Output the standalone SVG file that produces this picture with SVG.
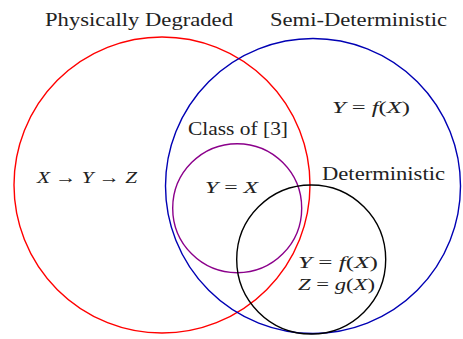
<svg xmlns="http://www.w3.org/2000/svg" width="463" height="339" viewBox="0 0 463 339">
<style>
.c{fill:none;stroke-width:1.4}
.i{font-style:italic}
</style>
<rect width="463" height="339" fill="#fff"/>
<g id="connectors"/>
<g font-family="Liberation Serif, DejaVu Serif, Noto Serif, serif" fill="#222">
<g id="physically-degraded">
<circle class="c" cx="162" cy="185" r="148" stroke="#ff0000"/>
<text font-size="19" x="45" y="25.5" textLength="188" lengthAdjust="spacingAndGlyphs">Physically Degraded</text>
<text font-size="17" x="37" y="183" textLength="100" lengthAdjust="spacingAndGlyphs"><tspan class="i">X</tspan> → <tspan class="i">Y</tspan> → <tspan class="i">Z</tspan></text>
</g>
<g id="semi-deterministic">
<circle class="c" cx="313" cy="186" r="147.5" stroke="#0000b4"/>
<text font-size="19" x="270" y="25.5" textLength="177" lengthAdjust="spacingAndGlyphs">Semi-Deterministic</text>
<text font-size="17" x="332" y="113" textLength="78" lengthAdjust="spacingAndGlyphs"><tspan class="i">Y</tspan> = <tspan class="i">f</tspan>(<tspan class="i">X</tspan>)</text>
</g>
<g id="class-of-3">
<circle class="c" cx="237.2" cy="208.2" r="64.5" stroke="#8b008b"/>
<text font-size="19" x="188" y="135" textLength="100" lengthAdjust="spacingAndGlyphs">Class of [3]</text>
<text font-size="17" x="205" y="192.5" textLength="53" lengthAdjust="spacingAndGlyphs"><tspan class="i">Y</tspan> = <tspan class="i">X</tspan></text>
</g>
<g id="deterministic">
<circle class="c" cx="311.2" cy="259.5" r="74.5" stroke="#000"/>
<text font-size="19" x="322" y="180" textLength="123" lengthAdjust="spacingAndGlyphs">Deterministic</text>
<text font-size="17" x="298" y="268" textLength="80" lengthAdjust="spacingAndGlyphs"><tspan class="i">Y</tspan> = <tspan class="i">f</tspan>(<tspan class="i">X</tspan>)</text>
<text font-size="17" x="298" y="290" textLength="77" lengthAdjust="spacingAndGlyphs"><tspan class="i">Z</tspan> = <tspan class="i">g</tspan>(<tspan class="i">X</tspan>)</text>
</g>
</g>
</svg>
